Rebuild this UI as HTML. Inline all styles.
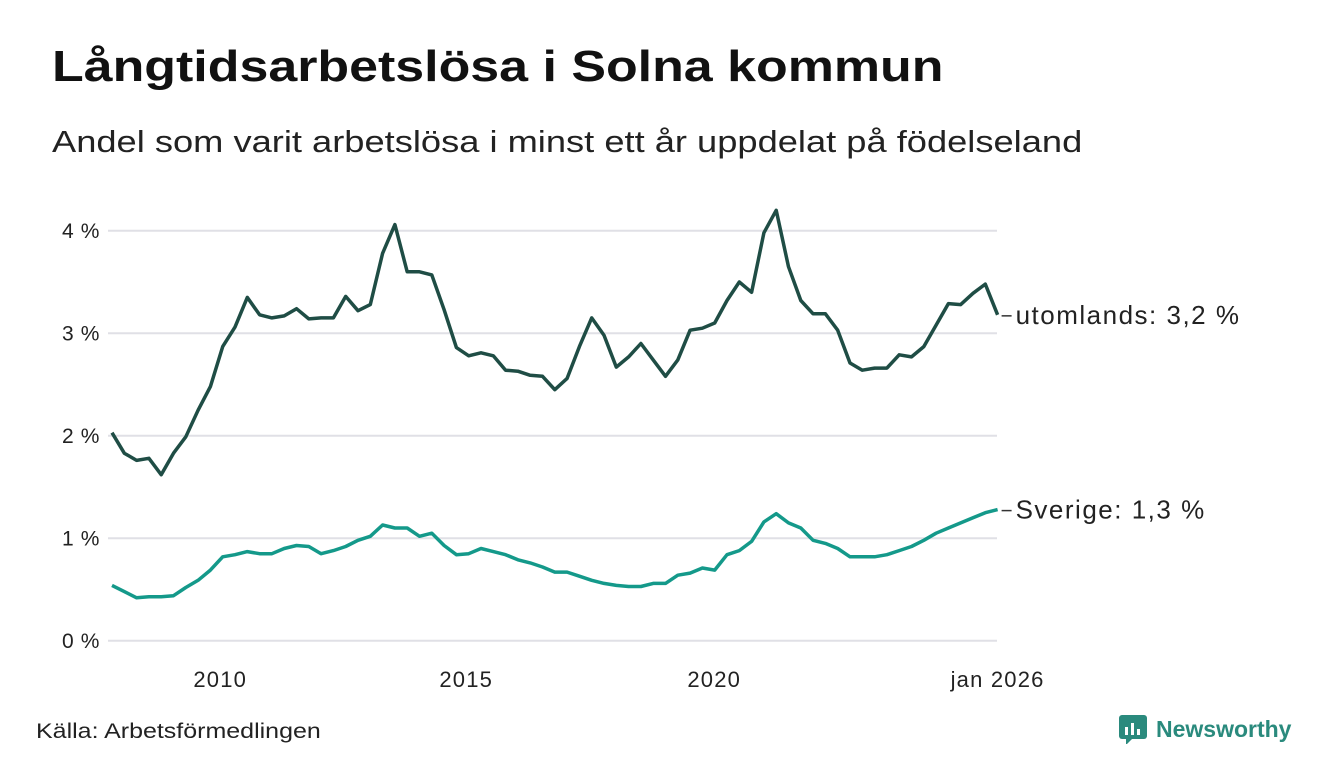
<!DOCTYPE html>
<html><head><meta charset="utf-8"><style>
body{margin:0;width:1340px;height:780px;background:#fff;font-family:"Liberation Sans",sans-serif;overflow:hidden;position:relative;color:#111}
#title{position:absolute;left:52px;top:42px;font-size:44px;font-weight:bold;transform:scaleX(1.18);transform-origin:left top;white-space:nowrap}
#sub{position:absolute;left:52px;top:124px;font-size:31px;color:#222;transform:scaleX(1.17);transform-origin:left top;white-space:nowrap}
#src{position:absolute;left:36px;top:720px;font-size:21px;color:#222;transform:scaleX(1.19);transform-origin:left top;white-space:nowrap}
#logo{position:absolute;left:1118px;top:714px;display:flex;align-items:center;gap:8px;color:#2a8a7d;font-weight:bold;font-size:23px}
</style></head><body>
<div id="title">Långtidsarbetslösa i Solna kommun</div>
<div id="sub">Andel som varit arbetslösa i minst ett år uppdelat på födelseland</div>
<svg id="chart" width="1340" height="780" style="position:absolute;left:0;top:0"></svg>
<div id="src">Källa: Arbetsförmedlingen</div>
<div id="logo"><svg width="30" height="30" viewBox="0 0 30 30"><rect x="1" y="1" width="28" height="24" rx="3" fill="#2a8a7d"/><path d="M8 25 L8 31 L14 25Z" fill="#2a8a7d"/><rect x="7" y="13" width="3" height="8" fill="#fff"/><rect x="13" y="9" width="3" height="12" fill="#fff"/><rect x="19" y="15" width="3" height="6" fill="#fff"/></svg><span>Newsworthy</span></div>
<script>
const startYear = 2008;
const yTicks = [0, 1, 2, 3, 4];
const xTickLabels = ["2010", "2015", "2020", "jan 2026"];
const xTickYears = [2010.2, 2015.2, 2020.24, 2026.0];
const utomlands = [2.03,1.83,1.76,1.78,1.62,1.83,1.99,2.25,2.48,2.87,3.06,3.35,3.18,3.15,3.17,3.24,3.14,3.15,3.15,3.36,3.22,3.28,3.78,4.06,3.60,3.60,3.57,3.23,2.86,2.78,2.81,2.78,2.64,2.63,2.59,2.58,2.45,2.56,2.87,3.15,2.98,2.67,2.77,2.90,2.74,2.58,2.74,3.03,3.05,3.10,3.32,3.50,3.40,3.98,4.20,3.65,3.32,3.19,3.19,3.03,2.71,2.64,2.66,2.66,2.79,2.77,2.87,3.08,3.29,3.28,3.39,3.48,3.18];
const sverige = [0.54,0.48,0.42,0.43,0.43,0.44,0.52,0.59,0.69,0.82,0.84,0.87,0.85,0.85,0.90,0.93,0.92,0.85,0.88,0.92,0.98,1.02,1.13,1.10,1.10,1.02,1.05,0.93,0.84,0.85,0.90,0.87,0.84,0.79,0.76,0.72,0.67,0.67,0.63,0.59,0.56,0.54,0.53,0.53,0.56,0.56,0.64,0.66,0.71,0.69,0.84,0.88,0.97,1.16,1.24,1.15,1.10,0.98,0.95,0.90,0.82,0.82,0.82,0.84,0.88,0.92,0.98,1.05,1.10,1.15,1.20,1.25,1.28];
const seriesLabels = ["utomlands: 3,2 %", "Sverige: 1,3 %"];
const svg = document.getElementById('chart');
const NS = 'http://www.w3.org/2000/svg';
const x = yr => 112 + (yr - startYear) * 49.2;
const y = v => 640.8 - v * 102.5;
function mk(tag, attrs){const e=document.createElementNS(NS,tag);for(const k in attrs)e.setAttribute(k,attrs[k]);svg.appendChild(e);return e;}
yTicks.forEach(t=>{
  const g = mk('line',{x1:108,x2:997,y1:y(t),y2:y(t),stroke:'#e0e0e6','stroke-width':2});
  
  
  const l = mk('text',{x:100,y:y(t)+7,'text-anchor':'end','font-size':21,'letter-spacing':0.6,fill:'#222','font-family':'Liberation Sans, sans-serif'});
  l.textContent = t + ' %';
  
  
});
xTickLabels.forEach((s,i)=>{
  const l = mk('text',{x:x(xTickYears[i]),y:687,'text-anchor':'middle','font-size':22,'letter-spacing':1.2,fill:'#222','font-family':'Liberation Sans, sans-serif'});
  l.textContent = s;
  
  
});
function line(data, color, name, label){
  const pts = data.map((v,i)=>x(startYear + i*0.25).toFixed(1)+','+y(v).toFixed(1)).join(' ');
  const p = mk('polyline',{points:pts,fill:'none',stroke:color,'stroke-width':3.5,'stroke-linejoin':'round'});
  
  
  const last = data[data.length-1];
  const ly = y(last);
  const ex = x(startYear + (data.length-1)*0.25);
  const c = mk('line',{x1:ex+4,x2:ex+14,y1:ly+1,y2:ly+1,stroke:'#333','stroke-width':1.5});
  
  
  const t = mk('text',{x:ex+18,y:ly+9,'font-size':26,'letter-spacing':1.5,fill:'#222','font-family':'Liberation Sans, sans-serif'});
  t.textContent = label;
  
  
}
line(utomlands, '#1f4d45', 'series-utomlands', seriesLabels[0]);
line(sverige, '#14998a', 'series-sverige', seriesLabels[1]);
</script>
</body></html>
